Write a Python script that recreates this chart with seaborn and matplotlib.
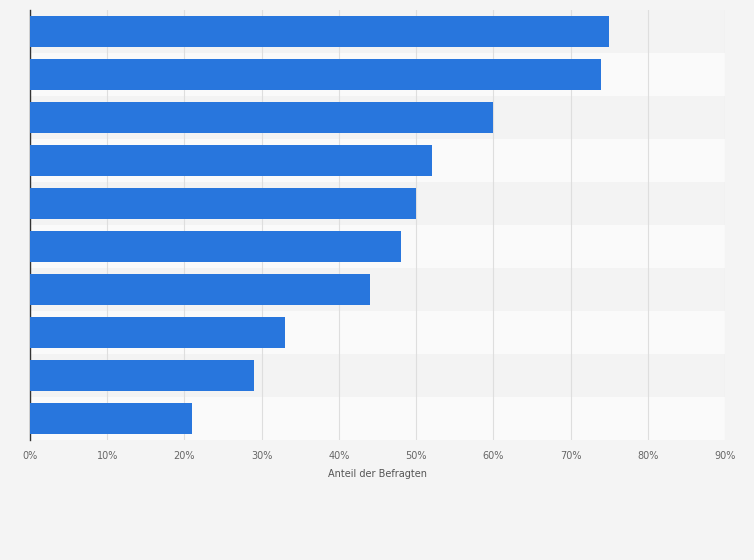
import matplotlib
matplotlib.use("Agg")
import matplotlib.pyplot as plt
import seaborn as sns
import pandas as pd

categories = ["K1", "K2", "K3", "K4", "K5", "K6", "K7", "K8", "K9", "K10"]
values = [75, 74, 60, 52, 50, 48, 44, 33, 29, 21]
xticks = [0, 10, 20, 30, 40, 50, 60, 70, 80, 90]
xtick_labels = [f"{t}%" for t in xticks]

df = pd.DataFrame({"cat": categories, "val": values})

fig = plt.figure(figsize=(7.54, 5.60), dpi=100, facecolor="#f4f4f4")
ax = fig.add_axes([30/754, 1 - 440/560, (725-30)/754, 430/560])
ax.set_facecolor("#f4f4f4")
for i in range(len(categories)):
    ax.axhspan(i - 0.5, i + 0.5, color="#f3f3f3" if i % 2 == 0 else "#fafafa", zorder=0, lw=0)
sns.barplot(data=df, x="val", y="cat", orient="h", color="#2876dd", width=0.7,
            saturation=1, ax=ax, zorder=3)
ax.set_xlim(0, 90)
ax.set_ylim(len(categories) - 0.5, -0.5)
ax.set_xticks(xticks)
ax.set_xticklabels(xtick_labels, fontsize=7, color="#666666")
ax.set_yticks([])
ax.set_ylabel("")
ax.set_xlabel("Anteil der Befragten", fontsize=7, color="#555555", labelpad=6)
ax.tick_params(axis="x", length=0, pad=8)
ax.grid(axis="x", color="#dedede", lw=0.8, zorder=1)
ax.set_axisbelow(True)
for s in ["top", "right", "bottom"]:
    ax.spines[s].set_visible(False)
ax.spines["left"].set_color("#333333")
ax.spines["left"].set_linewidth(1)
fig.savefig("out.png", dpi=100, facecolor=fig.get_facecolor())
